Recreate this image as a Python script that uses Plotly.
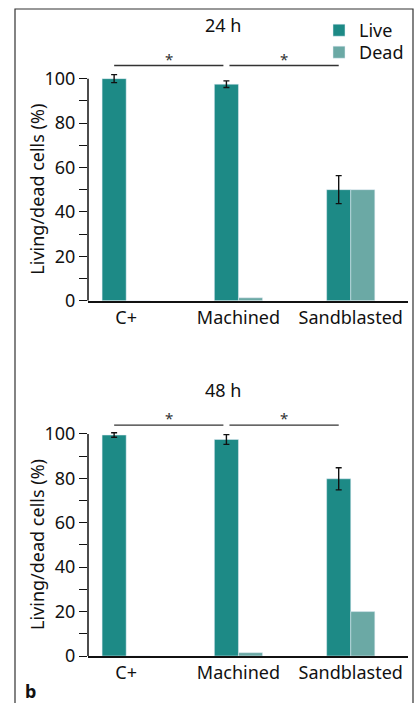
import plotly.graph_objects as go

categories = ["C+", "Machined", "Sandblasted"]
live_24 = [100.0, 97.5, 50.0]
live_24_err = [1.8, 1.5, 6.3]
dead_24 = [0.0, 1.3, 50.0]
live_48 = [99.5, 97.5, 79.8]
live_48_err = [1.0, 2.2, 5.0]
dead_48 = [0.0, 1.5, 20.0]
sig_pairs = [(0, 1), (1, 2)]
sig_y = {"24": 105.9, "48": 104.0}
panel_titles = ["24 h", "48 h"]
y_ticks = list(range(0, 101, 10))
y_ticktext = [str(v) if v % 20 == 0 else "" for v in y_ticks]

LIVE = "#1d8a86"
DEAD = "#6ba9a5"
FONT = "Noto Sans"
FS = 18

fig = go.Figure()
idx = list(range(len(categories)))

def add_panel(live, err, dead, xa, ya, show):
    fig.add_trace(go.Bar(x=idx, y=live, name="Live", marker_color=LIVE,
                         error_y=dict(type="data", array=err, color="#111", thickness=1.4, width=3),
                         xaxis=xa, yaxis=ya, showlegend=show, legend="legend"))
    fig.add_trace(go.Bar(x=idx, y=dead, name="Dead", marker_color=DEAD,
                         xaxis=xa, yaxis=ya, showlegend=show, legend="legend2"))

add_panel(live_24, live_24_err, dead_24, "x", "y", True)
add_panel(live_48, live_48_err, dead_48, "x2", "y2", False)

YMAX = 126.4
xcommon = dict(range=[-0.34, 2.51], showline=True, linecolor="#111", linewidth=1.5,
               ticks="", tickmode="array", tickvals=idx, ticktext=categories,
               tickfont=dict(size=FS, color="#111"), showgrid=False, zeroline=False,
               fixedrange=True, automargin=False)
ycommon = dict(range=[0, YMAX], showline=False, ticks="outside", ticklen=8, tickwidth=1.4,
               tickcolor="#111", tickmode="array", tickvals=y_ticks, ticktext=y_ticktext,
               tickfont=dict(size=FS, color="#111"), showgrid=False, zeroline=False,
               automargin=False)

H = 636.0
def py(px):
    return (656 - px) / H

def pxx(px):
    return (px - 88) / 320.0

legend_common = dict(xanchor="left", yanchor="top", font=dict(size=FS),
                     bgcolor="rgba(0,0,0,0)", itemclick=False, itemdoubleclick=False)

fig.update_layout(
    width=415, height=703,
    margin=dict(l=88, r=7, t=20, b=47, autoexpand=False),
    paper_bgcolor="white", plot_bgcolor="white",
    barmode="group", bargap=0.571, bargroupgap=0,
    font=dict(family=FONT, size=FS, color="#111"),
    xaxis=dict(domain=[0, 1], anchor="y", **xcommon),
    yaxis=dict(domain=[py(300.7), 1], anchor="x", **ycommon),
    xaxis2=dict(domain=[0, 1], anchor="y2", **xcommon),
    yaxis2=dict(domain=[0, py(375.3)], anchor="x2", **ycommon),
    legend=dict(x=pxx(319), y=py(12), **legend_common),
    legend2=dict(x=pxx(319), y=py(34), **legend_common),
    showlegend=True,
)

shapes = []
annotations = []
off = 0.107
gap = 0.027
for (xr, yr, key, title, ty) in [("x", "y", "24", panel_titles[0], 25),
                                 ("x2", "y2", "48", panel_titles[1], 390)]:
    shapes.append(dict(type="line", xref=f"{xr} domain", yref=yr, x0=0, x1=0, y0=0, y1=100,
                       line=dict(color="#111", width=1.5)))
    for (i, j) in sig_pairs:
        x0 = i - off + (gap if i == 1 else 0)
        x1 = j - off - (gap if j == 1 else 0)
        shapes.append(dict(type="line", xref=xr, yref=yr, x0=x0, x1=x1, y0=sig_y[key], y1=sig_y[key],
                           line=dict(color="#333", width=1.3)))
        annotations.append(dict(x=(x0 + x1) / 2, y=sig_y[key], xref=xr, yref=yr, text="*",
                                showarrow=False, yanchor="bottom", font=dict(size=15, color="#333"),
                                yshift=-5))
    annotations.append(dict(x=pxx(37), y=50, xref="paper", yref=yr, text="Living/dead cells (%)",
                            textangle=-90, showarrow=False, xanchor="center", yanchor="middle",
                            font=dict(size=FS)))
    annotations.append(dict(x=pxx(223), y=py(ty), xref="paper", yref="paper", text=title,
                            showarrow=False, xanchor="center", yanchor="middle", font=dict(size=FS)))

annotations.append(dict(x=pxx(30), y=py(691), xref="paper", yref="paper", text="<b>b</b>",
                        showarrow=False, xanchor="center", yanchor="middle", font=dict(size=FS)))
shapes.append(dict(type="rect", xref="paper", yref="paper", x0=pxx(15), x1=pxx(413),
                   y0=-0.2, y1=py(9), line=dict(color="#333", width=1.2)))

fig.update_layout(shapes=shapes, annotations=annotations)
fig.write_html("out.html", config={"displayModeBar": False},
               post_script="document.body.style.margin='0';document.body.style.padding='0';")
